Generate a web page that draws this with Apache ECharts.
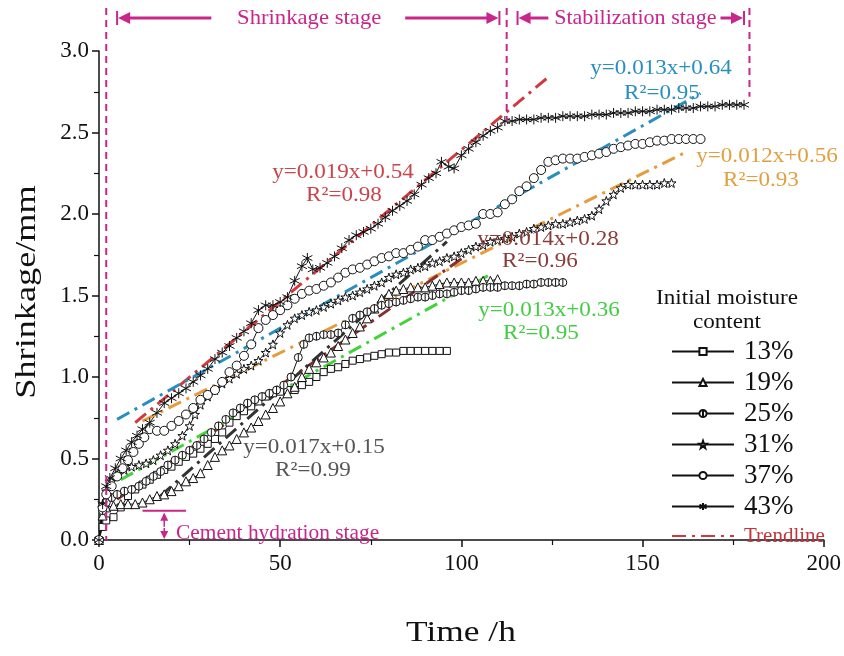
<!DOCTYPE html>
<html>
<head>
<meta charset="utf-8">
<script src="https://cdn.jsdelivr.net/npm/echarts@6/dist/echarts.min.js"></script>
<style>
  html, body { margin: 0; padding: 0; background: #fff; }
  #main { width: 844px; height: 656px; }
</style>
</head>
<body>
<div id="main"></div>
<script>
// 读图得到的数据：时间 (h) 与收缩量 (mm)
const t13 = [0, 1, 2, 4, 6, 8, 10, 12, 14, 16, 18, 20, 22, 24, 26, 28, 30, 32, 34, 36, 38, 40, 42, 44, 46, 48, 50, 52, 54, 56, 58, 60, 62, 64, 66, 68, 70, 72, 74, 76, 78, 80, 82, 84, 86, 88, 90, 92, 94, 96];
const s13 = [0, 0.08, 0.12, 0.14, 0.2, 0.27, 0.31, 0.34, 0.37, 0.4, 0.43, 0.45, 0.48, 0.51, 0.53, 0.56, 0.59, 0.62, 0.66, 0.72, 0.76, 0.79, 0.82, 0.85, 0.88, 0.9, 0.91, 0.92, 0.92, 0.95, 0.97, 1.0, 1.03, 1.05, 1.06, 1.08, 1.1, 1.11, 1.12, 1.13, 1.14, 1.15, 1.15, 1.16, 1.16, 1.16, 1.16, 1.16, 1.16, 1.16];

const t19 = [0, 1, 2, 4, 6, 8, 10, 12, 14, 16, 18, 20, 22, 24, 26, 28, 30, 32, 34, 36, 38, 40, 42, 44, 46, 48, 50, 52, 54, 56, 58, 60, 62, 64, 66, 68, 70, 72, 74, 76, 78, 80, 82, 84, 86, 88, 90, 92, 94, 96, 98, 100, 102, 104, 106, 108, 110];
const s19 = [0, 0.15, 0.2, 0.21, 0.22, 0.22, 0.22, 0.23, 0.25, 0.27, 0.28, 0.3, 0.33, 0.36, 0.38, 0.41, 0.46, 0.51, 0.55, 0.58, 0.62, 0.66, 0.69, 0.73, 0.77, 0.81, 0.85, 0.9, 0.94, 1.0, 1.05, 1.09, 1.12, 1.15, 1.19, 1.23, 1.27, 1.31, 1.36, 1.42, 1.48, 1.51, 1.53, 1.54, 1.55, 1.55, 1.55, 1.56, 1.57, 1.58, 1.58, 1.58, 1.58, 1.59, 1.59, 1.59, 1.6];

const t25 = [0, 1, 2, 3.5, 5, 7, 9, 11, 13, 15, 17, 19, 21, 23, 25, 27, 29, 31, 33, 35, 37, 39, 41, 43, 45, 47, 49, 51, 53, 55, 56.5, 58, 60, 62, 64, 66, 68, 70, 72, 74, 76, 78, 80, 82, 84, 86, 88, 90, 92, 94, 96, 98, 100, 102, 104, 106, 108, 110, 112, 114, 116, 118, 120, 122, 124, 126, 128];
const s25 = [0, 0.18, 0.23, 0.26, 0.28, 0.3, 0.31, 0.33, 0.36, 0.39, 0.42, 0.46, 0.49, 0.52, 0.55, 0.58, 0.62, 0.66, 0.7, 0.74, 0.78, 0.81, 0.84, 0.86, 0.88, 0.9, 0.92, 0.95, 1.0, 1.12, 1.2, 1.24, 1.25, 1.26, 1.26, 1.27, 1.32, 1.36, 1.38, 1.4, 1.42, 1.44, 1.45, 1.46, 1.47, 1.48, 1.49, 1.49, 1.5, 1.51, 1.51, 1.52, 1.53, 1.53, 1.54, 1.55, 1.55, 1.55, 1.56, 1.56, 1.56, 1.57, 1.57, 1.58, 1.58, 1.58, 1.58];

const t31 = [0, 1, 2, 3.5, 5, 7, 9, 11, 13, 15, 17, 19, 21, 23, 25, 26.5, 28, 30, 32, 34, 36, 38, 40, 42, 44, 46, 48, 50, 52, 54, 56, 58, 60, 62, 64, 66, 68, 70, 72, 74, 76, 78, 80, 82, 84, 86, 88, 90, 92, 94, 96, 98, 100, 102, 104, 106, 108, 110, 112, 114, 116, 118, 120, 122, 124, 126, 128, 130, 132, 134, 136, 138, 140, 142, 144, 146, 148, 150, 152, 154, 156, 158];
const s31 = [0, 0.22, 0.3, 0.36, 0.4, 0.43, 0.45, 0.46, 0.47, 0.49, 0.52, 0.55, 0.59, 0.64, 0.7, 0.77, 0.83, 0.88, 0.92, 0.96, 0.99, 1.02, 1.05, 1.07, 1.1, 1.15, 1.2, 1.27, 1.32, 1.36, 1.38, 1.4, 1.41, 1.43, 1.45, 1.47, 1.49, 1.5, 1.52, 1.54, 1.56, 1.58, 1.61, 1.63, 1.64, 1.66, 1.67, 1.68, 1.7, 1.71, 1.73, 1.74, 1.76, 1.78, 1.8, 1.81, 1.83, 1.84, 1.85, 1.86, 1.88, 1.89, 1.91, 1.92, 1.93, 1.94, 1.94, 1.95, 1.96, 1.97, 1.99, 2.03, 2.08, 2.12, 2.16, 2.18, 2.18, 2.18, 2.18, 2.18, 2.19, 2.19];

const t37 = [0, 1, 2, 3.5, 5, 6.5, 8, 9.5, 11, 12.5, 14, 16, 18, 20, 22, 24, 26, 28, 30, 32, 34, 36, 38, 40, 42, 44, 46, 48, 50, 52, 54, 56, 58, 60, 62, 64, 66, 68, 70, 72, 74, 76, 78, 80, 82, 84, 86, 88, 90, 92, 94, 96, 98, 100, 102, 104, 106, 108, 110, 112, 114, 116, 118, 120, 122, 124, 126, 128, 130, 132, 134, 136, 138, 140, 142, 144, 146, 148, 150, 152, 154, 156, 158, 160, 162, 164, 166];
const s37 = [0, 0.2, 0.28, 0.33, 0.39, 0.44, 0.49, 0.54, 0.59, 0.63, 0.68, 0.67, 0.67, 0.7, 0.73, 0.77, 0.81, 0.86, 0.89, 0.92, 0.97, 1.03, 1.07, 1.13, 1.2, 1.3, 1.35, 1.38, 1.41, 1.44, 1.48, 1.51, 1.53, 1.54, 1.56, 1.58, 1.61, 1.64, 1.66, 1.67, 1.69, 1.71, 1.73, 1.74, 1.76, 1.76, 1.78, 1.8, 1.84, 1.84, 1.86, 1.88, 1.9, 1.92, 1.93, 1.94, 2.0, 2.0, 2.01, 2.06, 2.09, 2.14, 2.17, 2.22, 2.27, 2.32, 2.33, 2.34, 2.34, 2.34, 2.35, 2.36, 2.37, 2.38, 2.4, 2.41, 2.42, 2.43, 2.43, 2.44, 2.45, 2.45, 2.46, 2.46, 2.46, 2.46, 2.46];

const t43 = [0, 1, 2, 3, 4.5, 6, 7.5, 9, 10.5, 12, 14, 16, 18, 20, 22, 24, 26, 28, 30, 32, 34, 36, 38, 40, 42, 44, 46, 48, 50, 52, 54, 56, 57.5, 59, 61, 63, 65, 67, 69, 71, 73, 75, 77, 79, 81, 83, 85, 87, 89, 91, 93, 94.5, 96.5, 98, 100, 102, 104, 106, 108, 110, 112, 114, 116, 118, 120, 122, 124, 126, 128, 130, 132, 134, 136, 138, 140, 142, 144, 146, 148, 150, 152, 154, 156, 158, 160, 162, 164, 166, 168, 170, 172, 174, 176, 178];
const s43 = [0, 0.22, 0.33, 0.38, 0.44, 0.5, 0.55, 0.6, 0.64, 0.68, 0.72, 0.78, 0.84, 0.87, 0.9, 0.93, 0.97, 1.01, 1.05, 1.11, 1.15, 1.19, 1.24, 1.28, 1.33, 1.41, 1.44, 1.44, 1.46, 1.49, 1.59, 1.68, 1.73, 1.66, 1.67, 1.7, 1.74, 1.79, 1.84, 1.87, 1.89, 1.91, 1.94, 1.98, 2.02, 2.05, 2.08, 2.12, 2.18, 2.22, 2.25, 2.32, 2.29, 2.28, 2.36, 2.4, 2.44, 2.48, 2.51, 2.53, 2.57, 2.57, 2.58, 2.58, 2.58, 2.59, 2.59, 2.59, 2.6, 2.6, 2.6, 2.6, 2.61, 2.61, 2.61, 2.62, 2.62, 2.62, 2.63, 2.63, 2.63, 2.64, 2.64, 2.64, 2.65, 2.65, 2.65, 2.66, 2.66, 2.66, 2.67, 2.67, 2.67, 2.67];

// 趋势线两端点
const trend43 = [[10, 0.72], [124, 2.84]];
const trend37 = [[5, 0.74], [166, 2.74]];
const trend31 = [[12, 0.73], [162, 2.38]];
const trend25 = [[5, 0.25], [101, 1.74]];
const trend13 = [[6, 0.37], [108, 1.63]];
const trend19 = [[17, 0.27], [96, 1.83]];

const seriesNames = ['13%', '19%', '25%', '31%', '37%', '43%'];
const eqTexts = ['y=0.019x+0.54', 'y=0.013x+0.64', 'y=0.012x+0.56', 'y=0.014x+0.28', 'y=0.013x+0.36', 'y=0.017x+0.15'];
const r2Texts = ['R²=0.98', 'R²=0.95', 'R²=0.93', 'R²=0.96', 'R²=0.95', 'R²=0.99'];

const FONT = '"Liberation Serif", "Times New Roman", serif';
const MAG = '#c8268a';

const zip = (ts, vs) => ts.map((t, i) => [t, vs[i]]);

const STAR = 'path://M0,-10L2.35,-3.24L9.51,-3.09L3.8,1.24L5.88,8.09L0,4L-5.88,8.09L-3.8,1.24L-9.51,-3.09L-2.35,-3.24Z';
const PHI = 'path://M0,-10A10,10,0,1,1,0,10A10,10,0,1,1,0,-10ZM0,-10L0,10';
const ASTER = 'path://M0,-10L0,10M-8.66,-5L8.66,5M-8.66,5L8.66,-5';

function dataSeries(name, data, symbol, size) {
  return {
    name: name, type: 'line', data: data,
    symbol: symbol, symbolSize: size,
    lineStyle: { color: '#111', width: 1 },
    itemStyle: { color: '#fff', borderColor: '#111', borderWidth: 1 },
    emphasis: { disabled: true }
  };
}
function trendSeries(data, color) {
  return {
    name: 'Trendline', type: 'line', data: data, symbol: 'none',
    lineStyle: { color: color, width: 3, type: [14, 6, 3, 6] },
    itemStyle: { color: color },
    emphasis: { disabled: true }, z: 3
  };
}

const chart = echarts.init(document.getElementById('main'));
chart.setOption({
  animation: false,
  textStyle: { fontFamily: FONT },
  grid: { left: 99, right: 20, top: 51, bottom: 116 },
  xAxis: {
    type: 'value', min: 0, max: 200, interval: 50,
    axisLine: { lineStyle: { color: '#111', width: 1.5 } },
    axisTick: { inside: false, length: 7, lineStyle: { color: '#111', width: 1.5 } },
    minorTick: { show: true, splitNumber: 2, length: 5, lineStyle: { color: '#111', width: 1.2 } },
    axisLabel: { fontSize: 23, color: '#111', margin: 12, fontFamily: FONT },
    splitLine: { show: false }
  },
  yAxis: {
    type: 'value', min: 0, max: 3, interval: 0.5,
    axisLine: { show: true, lineStyle: { color: '#111', width: 1.5 } },
    axisTick: { show: true, inside: false, length: 7, lineStyle: { color: '#111', width: 1.5 } },
    minorTick: { show: true, splitNumber: 2, length: 5, lineStyle: { color: '#111', width: 1.2 } },
    axisLabel: { fontSize: 23, color: '#111', margin: 10, fontFamily: FONT, formatter: v => v.toFixed(1) },
    splitLine: { show: false }
  },
  legend: {
    orient: 'vertical', left: 666, top: 333,
    itemWidth: 62, itemHeight: 9, itemGap: 4,
    textStyle: { fontSize: 27, color: '#111', lineHeight: 24, fontFamily: FONT, padding: [0, 0, 0, 5] },
    data: seriesNames.concat([{ name: 'Trendline', itemStyle: { opacity: 0 }, textStyle: { color: '#c0363c', fontSize: 21 } }])
  },
  series: [
    dataSeries('13%', zip(t13, s13), 'rect', 7),
    dataSeries('19%', zip(t19, s19), 'triangle', 9),
    dataSeries('25%', zip(t25, s25), PHI, 8),
    dataSeries('31%', zip(t31, s31), STAR, 9),
    dataSeries('37%', zip(t37, s37), 'circle', 9),
    dataSeries('43%', zip(t43, s43), ASTER, 10),
    trendSeries(trend43, '#d0393e'),
    trendSeries(trend37, '#2a8fbf'),
    trendSeries(trend31, '#e69c3c'),
    trendSeries(trend25, '#8b2e30'),
    trendSeries(trend13, '#44d33a'),
    trendSeries(trend19, '#333333')
  ]
});

// 注释：阶段分界线、箭头、拟合方程与坐标轴标题
const P = (t, v) => chart.convertToPixel({ gridIndex: 0 }, [t, v]);
const g = [];
function text(str, x, y, color, size, align, extra) {
  g.push(Object.assign({ type: 'text', z: 10, x: x, y: y, style: { text: str, x: 0, y: 0, fill: color, font: size + 'px ' + FONT,
    align: align || 'center', verticalAlign: 'middle', textAlign: align || 'center', textVerticalAlign: 'middle' } }, extra || {}));
}
function line(x1, y1, x2, y2, color, w, dash) {
  g.push({ type: 'line', z: 10, shape: { x1: x1, y1: y1, x2: x2, y2: y2 }, style: { stroke: color, lineWidth: w, lineDash: dash || null } });
}
function tri(pts, color) {
  g.push({ type: 'polygon', z: 10, shape: { points: pts }, style: { fill: color } });
}
function arrowLeft(xa, xb, y) {
  line(xa, y - 7, xa, y + 7, MAG, 2);
  tri([[xa + 1, y], [xa + 13, y - 6], [xa + 13, y + 6]], MAG);
  line(xa + 12, y, xb, y, MAG, 3);
}
function arrowRight(xa, xb, y) {
  line(xb, y - 7, xb, y + 7, MAG, 2);
  tri([[xb - 1, y], [xb - 13, y - 6], [xb - 13, y + 6]], MAG);
  line(xa, y, xb - 12, y, MAG, 3);
}

const topY = 18;
const v1 = P(2, 0), v2 = P(112.5, 2.57), v3 = P(179.5, 2.72);
line(v1[0], 8, v1[0], v1[1], MAG, 2, [7, 5]);
line(v2[0], 8, v2[0], v2[1], MAG, 2, [7, 5]);
line(v3[0], 8, v3[0], v3[1], MAG, 2, [7, 5]);

arrowLeft(P(5, 0)[0], P(31, 0)[0], topY);
text('Shrinkage stage', P(58, 0)[0], topY, MAG, 21, 'center', { scaleX: 1.08 });
arrowRight(P(84.5, 0)[0], P(110.5, 0)[0], topY);
arrowLeft(P(115.5, 0)[0], P(124, 0)[0], topY);
text('Stabilization stage', P(148, 0)[0], topY, MAG, 21, 'center', { scaleX: 1.05 });
arrowRight(P(171.5, 0)[0], P(178, 0)[0], topY);

// Cement hydration stage
const c1 = P(12, 0.18), c2 = P(24, 0.18), cm = P(18, 0.18), c0 = P(18, 0);
line(c1[0], c1[1], c2[0], c2[1], MAG, 2);
line(cm[0], cm[1] + 3, cm[0], cm[1] + 16, MAG, 1.5);
tri([[cm[0], cm[1] + 2], [cm[0] - 4, cm[1] + 10], [cm[0] + 4, cm[1] + 10]], MAG);
line(cm[0], c0[1] - 12, cm[0], c0[1] - 2, MAG, 1.5, [3, 2]);
tri([[cm[0], c0[1] - 1], [cm[0] - 4, c0[1] - 9], [cm[0] + 4, c0[1] - 9]], MAG);
text('Cement hydration stage', 176, 534, MAG, 20, 'left', { scaleX: 1.07 });

// 拟合方程
const eqColors = ['#c8454b', '#2a8fbf', '#e0a040', '#8b3a3a', '#44cc44', '#555555'];
const eqPos = [[343, 172], [661, 68], [767, 156], [548, 239], [549, 310], [314, 447]];
const r2Pos = [[344, 195], [662, 93], [761, 180], [540, 261], [541, 333], [313, 470]];
eqTexts.forEach((s, i) => {
  text(s, eqPos[i][0], eqPos[i][1], eqColors[i], 22, 'center', { scaleX: 1.05 });
  text(r2Texts[i], r2Pos[i][0], r2Pos[i][1], eqColors[i], 22, 'center', { scaleX: 1.05 });
});

// 图例标题
text('Initial moisture', 727, 298, '#111', 22, 'center', { scaleX: 1.05 });
text('content', 727, 322, '#111', 22, 'center', { scaleX: 1.05 });

// 坐标轴标题
text('Time /h', 461, 633, '#111', 29, 'center', { scaleX: 1.22 });
text('Shrinkage/mm', 27, 292, '#111', 29, 'center', { rotation: Math.PI / 2, scaleX: 1.25 });

chart.setOption({ graphic: { elements: g } });
</script>
</body>
</html>
